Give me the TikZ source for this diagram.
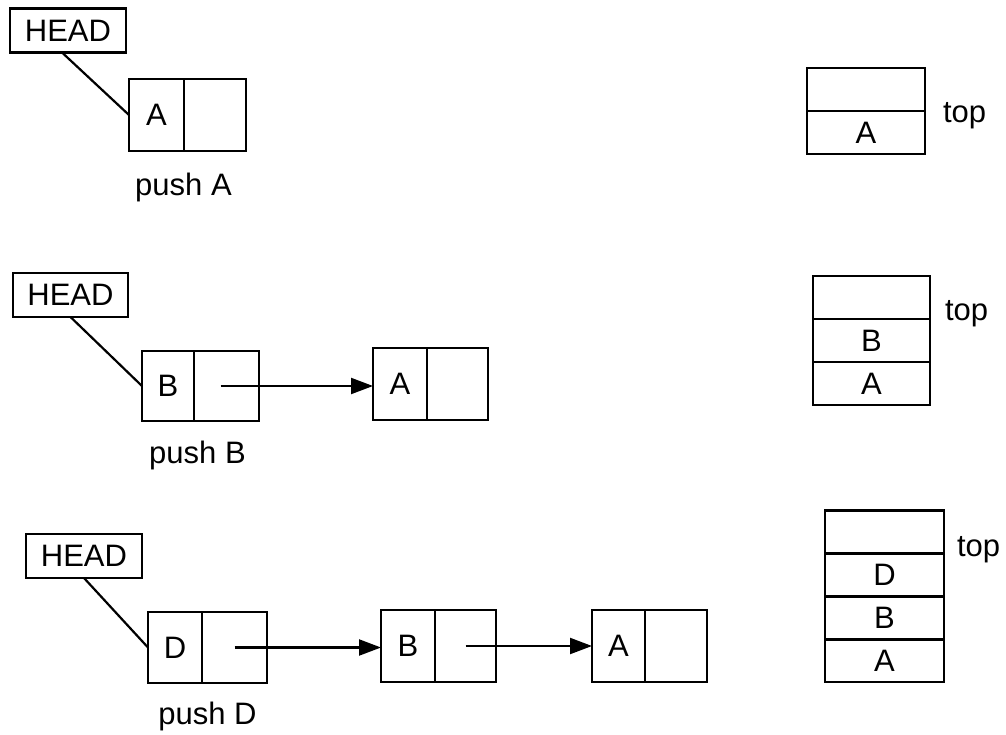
\documentclass[tikz,border=0pt]{standalone}
\usepackage{fontspec}
\setmainfont{Liberation Sans}
\usetikzlibrary{arrows.meta}
\begin{document}
\begin{tikzpicture}[x=1pt,y=-1pt,
  every node/.style={font=\fontsize{31}{37}\selectfont, inner sep=0pt, outer sep=0pt},
  frame/.style={draw, line width=2.2pt, rectangle},
  headbox/.style={frame, minimum width=116pt, minimum height=44pt},
  cell/.style={frame, minimum height=71pt},
  valcell/.style={cell, minimum width=54pt},
  ptrcell/.style={cell, minimum width=63pt},
  slot/.style={frame, minimum height=43pt},
  link/.style={line width=2.2pt},
  nextlink/.style={link, -{Triangle[length=22pt,width=16pt]}},
  caption/.style={anchor=base},
  toplabel/.style={anchor=base west},
]
\useasboundingbox (0,0) rectangle (1006,735);

% ---- push A ----
\node[headbox] (h1) at (68,30.5) {HEAD};
\node[valcell, minimum width=55pt, minimum height=72pt] (a1v) at (156.5,115) {A};
\node[ptrcell, minimum width=62pt, minimum height=72pt] (a1p) at (215,115) {};
\draw[link] ([xshift=-6pt]h1.south) -- (a1v.west);
\node[caption] (c1) at (183.5,196) {push A};

% ---- push B ----
\node[headbox, minimum width=115pt] (h2) at (70.5,295) {HEAD};
\node[valcell, minimum width=52pt, minimum height=70pt] (b2v) at (168,386) {B};
\node[ptrcell, minimum width=65pt, minimum height=70pt] (b2p) at (226.5,386) {};
\node[valcell, minimum height=72pt] (a2v) at (400,384) {A};
\node[ptrcell, minimum width=61pt, minimum height=72pt] (a2p) at (457.5,384) {};
\draw[link] (h2.south) -- (b2v.west);
\draw[nextlink] ([xshift=-6pt]b2p.center) -- (b2p.center -| a2v.west);
\node[caption] (c2) at (197.5,463) {push B};

% ---- push D ----
\node[headbox] (h3) at (84,556) {HEAD};
\node[valcell] (d3v) at (175,647.5) {D};
\node[ptrcell, minimum width=65pt] (d3p) at (234.5,647.5) {};
\node[valcell, minimum height=72pt] (b3v) at (408,646) {B};
\node[ptrcell, minimum width=61pt, minimum height=72pt] (b3p) at (465.5,646) {};
\node[valcell, minimum width=53pt, minimum height=72pt] (a3v) at (618.5,646) {A};
\node[ptrcell, minimum width=62pt, minimum height=72pt] (a3p) at (676,646) {};
\draw[link] (h3.south) -- (d3v.west);
\draw[nextlink] (d3p.center) -- (d3p.center -| b3v.west);
\draw[nextlink] (b3p.center) -- (b3p.center -| a3v.west);
\node[caption] (c3) at (207.5,724) {push D};

% ---- stacks ----
\node[slot, minimum width=118pt] (s1t) at (866,89.5) {};
\node[slot, minimum width=118pt] (s1a) at (866,132.5) {A};
\node[toplabel] (t1) at (943,123) {top};

\node[slot, minimum width=117pt] (s2t) at (871.5,297.5) {};
\node[slot, minimum width=117pt] (s2b) at (871.5,340.5) {B};
\node[slot, minimum width=117pt] (s2a) at (871.5,383.5) {A};
\node[toplabel] (t2) at (945,320) {top};

\node[slot, minimum width=119pt] (s3t) at (884.5,532) {};
\node[slot, minimum width=119pt] (s3d) at (884.5,575) {D};
\node[slot, minimum width=119pt] (s3b) at (884.5,618) {B};
\node[slot, minimum width=119pt] (s3a) at (884.5,660.5) {A};
\node[toplabel] (t3) at (957,556) {top};
\end{tikzpicture}
\end{document}
